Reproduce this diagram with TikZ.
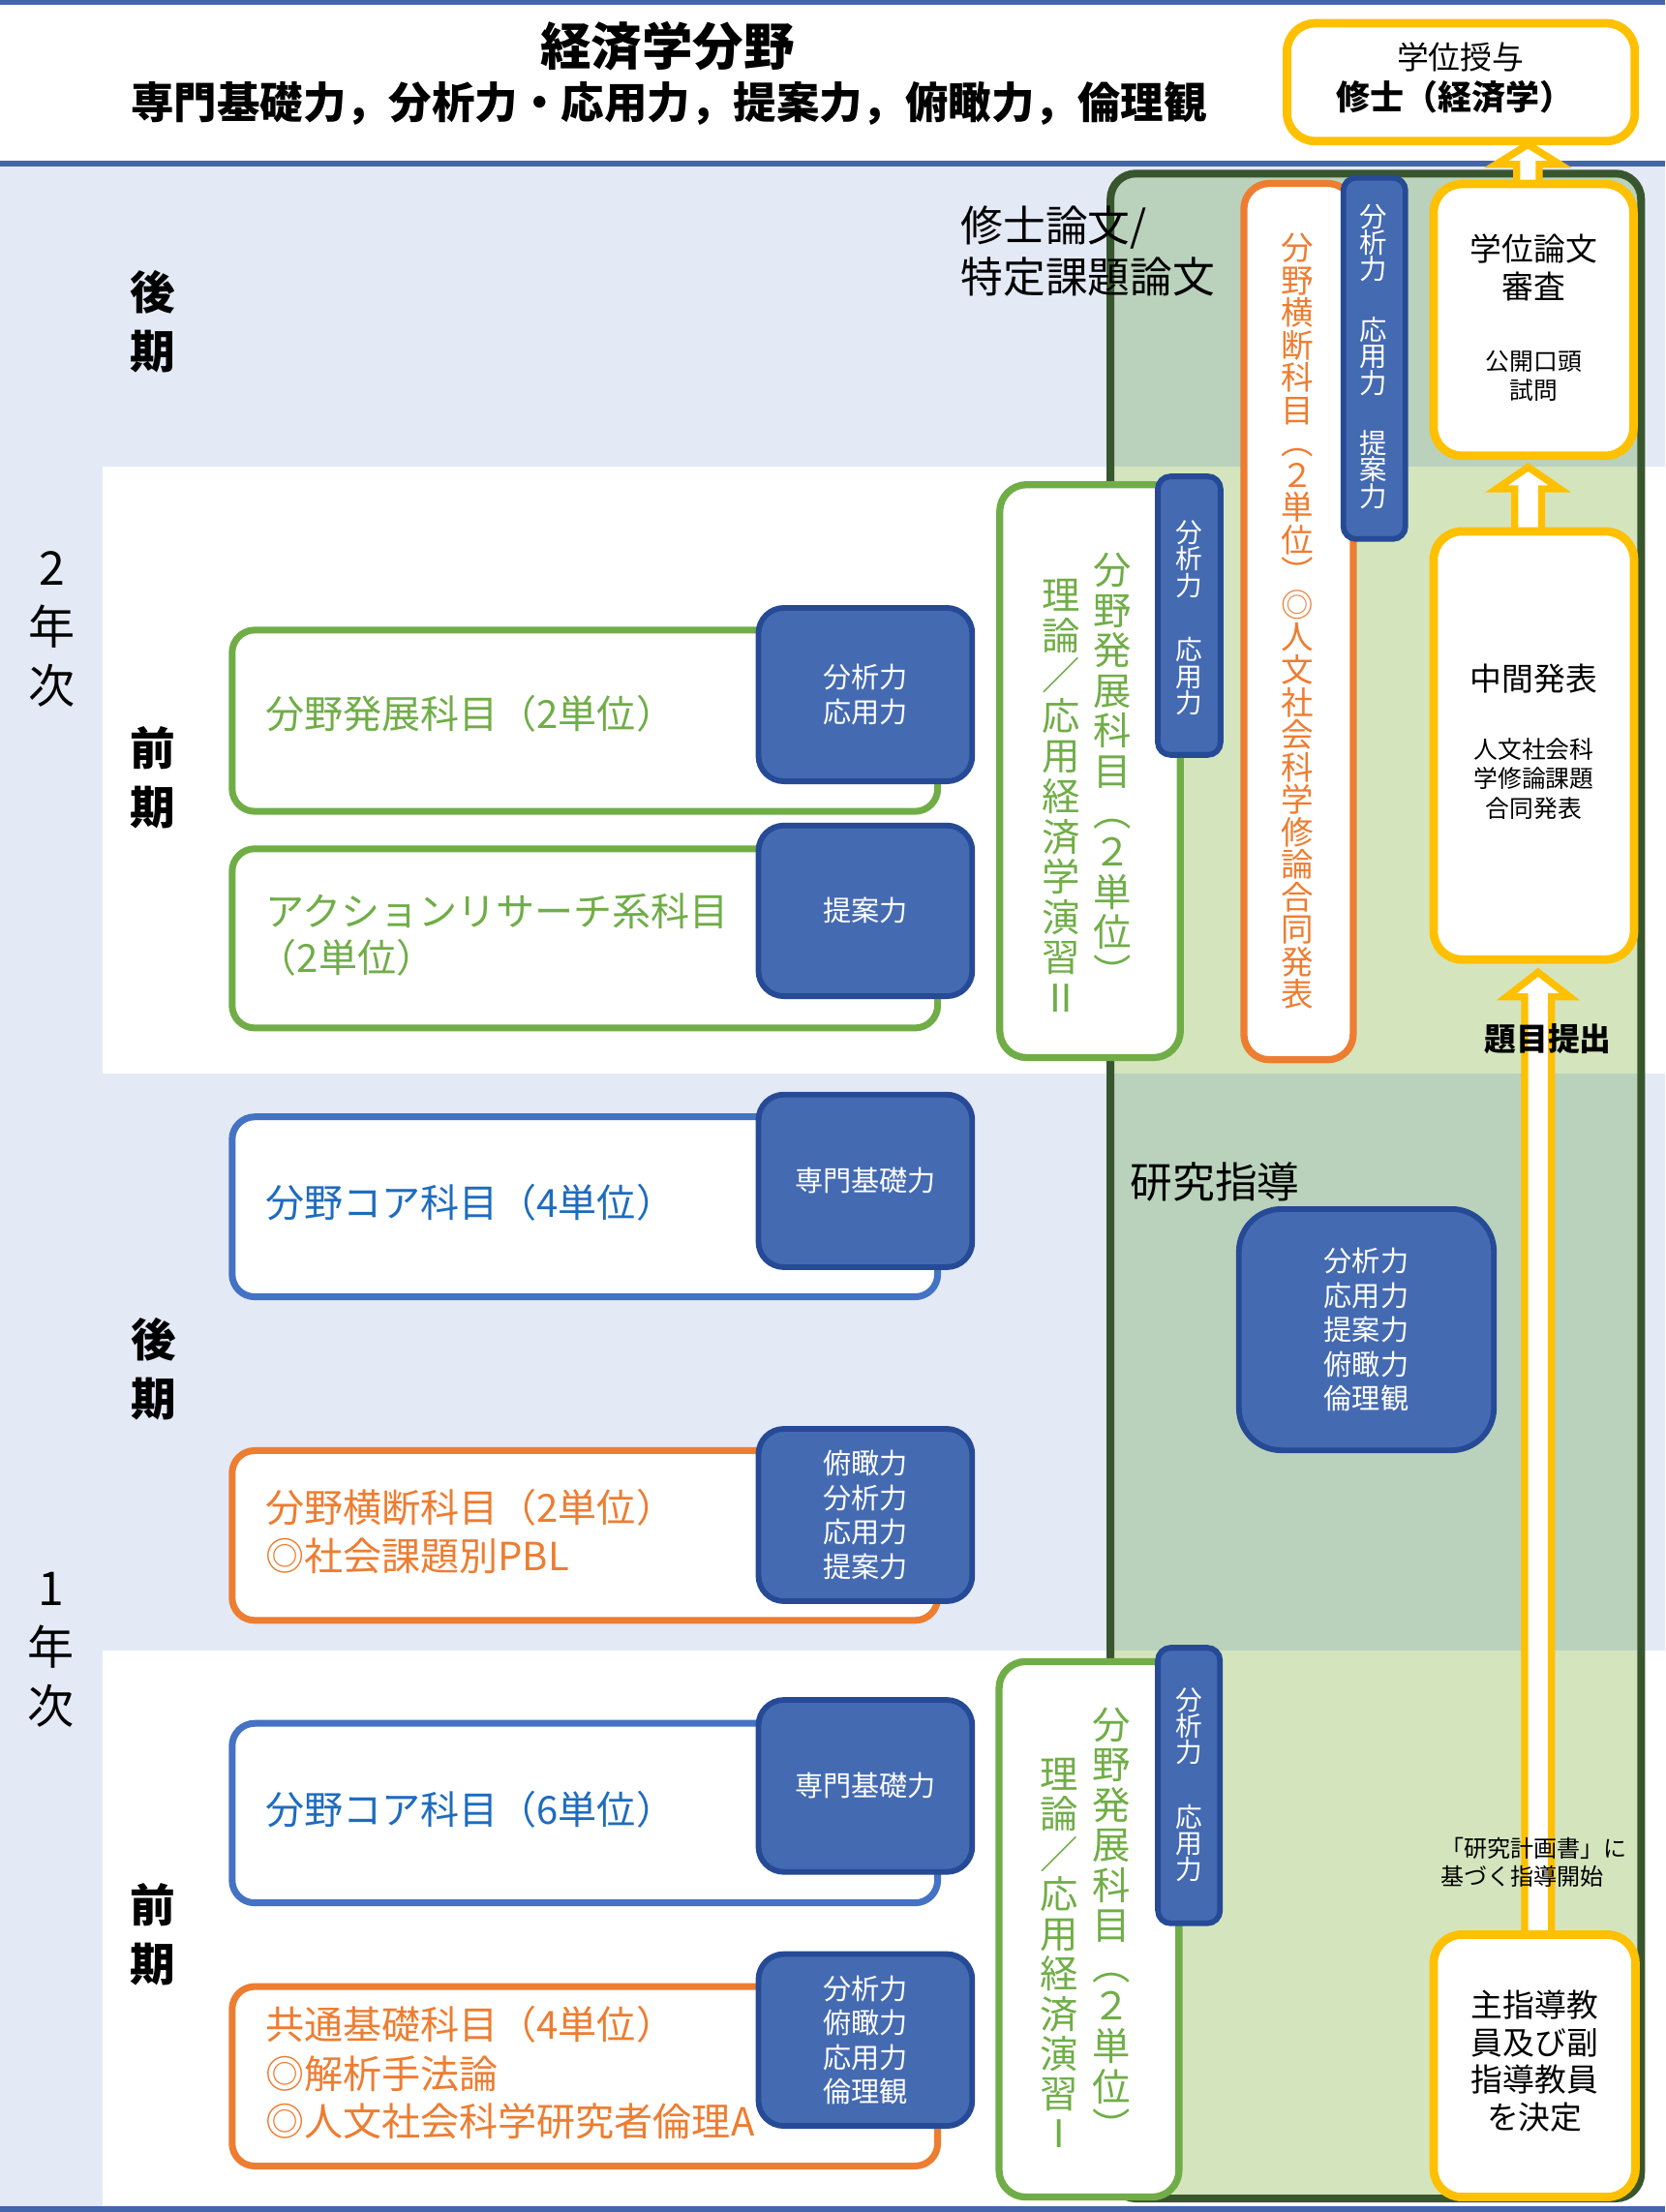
\documentclass[tikz,border=0pt]{standalone}
\usepackage{fontspec}
\setmainfont{Noto Sans CJK JP}
\usetikzlibrary{fit,calc}
\definecolor{hdrblue}{RGB}{68,100,172}
\definecolor{bandblue}{RGB}{227,233,245}
\definecolor{sage}{RGB}{186,210,188}
\definecolor{lgreen}{RGB}{212,229,190}
\definecolor{dgreen}{RGB}{56,86,46}
\definecolor{grn}{RGB}{112,173,71}
\definecolor{org}{RGB}{237,125,49}
\definecolor{cblue}{RGB}{68,114,196}
\definecolor{ctext}{RGB}{30,108,190}
\definecolor{bfill}{RGB}{68,106,178}
\definecolor{bdark}{RGB}{38,74,150}
\definecolor{yel}{RGB}{255,192,0}
\newcommand\fsz[2]{\fontsize{#1}{#2}\selectfont}
\lineskiplimit=-50pt
\pgfdeclarelayer{bg}
\pgfdeclarelayer{arr}
\pgfsetlayers{bg,arr,main}
% hollow block arrow: from, to, xoff, tipgap, headlen, shaft half
\newcommand\harrow[6]{%
  \draw[yarrow] let \p1=(#1.north), \p2=(#2.south) in
   ({\x1+(#3-#6)*1pt},{\y1-6pt}) -- ({\x1+(#3-#6)*1pt},{\y2-(#4+#5)*1pt})
   -- ({\x1+(#3-22.5)*1pt},{\y2-(#4+#5)*1pt}) -- ({\x1+(#3)*1pt},{\y2-(#4)*1pt})
   -- ({\x1+(#3+22.5)*1pt},{\y2-(#4+#5)*1pt}) -- ({\x1+(#3+#6)*1pt},{\y2-(#4+#5)*1pt})
   -- ({\x1+(#3+#6)*1pt},{\y1-6pt});
}
\tikzset{
  lbox/.style={draw, line width=4.8pt, fill=white, rounded corners=16pt, inner sep=0pt, outer sep=0pt},
  badge/.style={draw=bdark, fill=bfill, line width=4pt, rounded corners=18pt, inner sep=0pt, outer sep=0pt},
  vbadge/.style={badge, rounded corners=9pt},
  ybox/.style={draw=yel, fill=white, line width=6pt, rounded corners=20pt, inner sep=0pt, outer sep=0pt},
  vbox/.style={draw, line width=5pt, fill=white, rounded corners=19pt, inner sep=0pt, outer sep=0pt},
  yarrow/.style={draw=yel, fill=white, line width=5pt, line join=miter},
  txt/.style={inner sep=0pt, outer sep=0pt},
  vtxt/.style={txt, align=center, anchor=north},
  btxt/.style={txt, align=center, text=white, font=\fsz{20}{24.3}},
  ltxt/.style={txt, anchor=west, font=\fsz{27.5}{33}},
  lab/.style={txt, align=center, font=\fsz{32}{42}\bfseries},
  yrlab/.style={txt, align=center, font=\fsz{33}{42}},
}
\begin{document}
\begin{tikzpicture}[x=1pt,y=-1pt]
\useasboundingbox (0,0) rectangle (1180,1567.6);
\begin{pgfonlayer}{bg}
  \fill[white] (0,0) rectangle (1180,1567.6);
  \fill[bandblue] (0,117) rectangle (1180,1564);
  \fill[white] (72.5,331) rectangle (1180,761);
  \fill[white] (72.5,1170) rectangle (1180,1564);
  \draw[hdrblue, line width=3.5pt] (0,1.75) -- (1180,1.75);
  \draw[hdrblue, line width=4pt] (0,116) -- (1180,116);
  \begin{scope}
    \clip[rounded corners=18pt] (787,123) rectangle (1163,1558);
    \fill[sage] (787,123) rectangle (1163,331);
    \fill[lgreen] (787,331) rectangle (1163,761);
    \fill[sage] (787,761) rectangle (1163,1170);
    \fill[lgreen] (787,1170) rectangle (1163,1558);
  \end{scope}
  \node[fit={(787,123) (1163,1558)}, draw=dgreen, line width=5.5pt, rounded corners=18pt, inner sep=0pt, outer sep=0pt] (cont) {};
\end{pgfonlayer}

% header
\node[txt, font=\fsz{36}{40}\bfseries] (title) at (473,33) {経済学分野};
\node[txt, font=\fsz{30.5}{34}\bfseries] (subtitle) at (474,73) {専門基礎力，分析力・応用力，提案力，俯瞰力，倫理観};

% term / year labels
\node[lab] (l2k) at (108.5,228) {後\\期};
\node[yrlab] (y2) at (37,446) {2\\年\\次};
\node[lab] (l2z) at (108,551) {前\\期};
\node[lab] (l1k) at (109,970) {後\\期};
\node[yrlab] (y1) at (36,1169) {1\\年\\次};
\node[lab] (l1z) at (108,1371) {前\\期};

% thesis label
\node[txt, anchor=west, align=left, font=\fsz{30}{36}] (thesis) at (681,178) {修士論文/\\特定課題論文};

% yellow boxes
\node[ybox, fit={(912,16.5) (1158.6,100)}] (juyo) {};
\node[txt, font=\fsz{22.5}{26}] (juyo1) at (1035,40.4) {学位授与};
\node[txt, font=\fsz{24}{28}\bfseries] (juyo2) at (1031,68.6) {修士（経済学）};

\node[ybox, fit={(1016,130.4) (1157.6,323)}] (shinsa) {};
\node[txt, align=center, font=\fsz{22.5}{26.6}] (shinsa1) at (1087,189.7) {学位論文\\審査};
\node[txt, align=center, font=\fsz{17}{21}] (shinsa2) at (1087,266.5) {公開口頭\\試問};

\node[ybox, fit={(1016,376.6) (1158,680)}] (chukan) {};
\node[txt, font=\fsz{22.5}{26}] (chukan1) at (1087,481) {中間発表};
\node[txt, align=center, font=\fsz{17}{21}] (chukan2) at (1087,552) {人文社会科\\学修論課題\\合同発表};

\node[ybox, fit={(1016,1371) (1159,1557)}] (shido) {};
\node[txt, align=center, font=\fsz{22.5}{26.5}] (shido1) at (1087.5,1460.5) {主指導教\\員及び副\\指導教員\\を決定};

% hollow arrows
\begin{pgfonlayer}{arr}
  \harrow{shinsa}{juyo}{-4}{2.4}{14}{8}
  \harrow{chukan}{shinsa}{-4}{8}{15.5}{9.5}
  \harrow{shido}{chukan}{2.5}{9}{17.5}{9.5}
\end{pgfonlayer}
\node[txt, font=\fsz{22.5}{26}\bfseries] (daimoku) at (1097,736) {題目提出};
\node[txt, anchor=west, align=left, font=\fsz{16.5}{20}] (keikaku) at (1021,1320) {「研究計画書」に\\基づく指導開始};

% orange vertical box (2nd year)
\node[vbox, draw=org, rounded corners=18pt, fit={(881.5,130) (959,751)}] (oud) {};
\node[vtxt, text=org, font=\fsz{23}{23}] (oudt) at (919.5,165.4) {分\\野\\横\\断\\科\\目\\︵\\２\\単\\位\\︶\\◎\\人\\文\\社\\会\\科\\学\\修\\論\\合\\同\\発\\表};
\node[vbadge, fit={(952,126) (996,382)}] (oudb) {};
\node[vtxt, text=white, font=\fsz{19.5}{18.8}] (oudbt) at (973.5,144.6) {分\\析\\力\\[24pt]応\\用\\力\\[24pt]提\\案\\力};

% green vertical boxes
\node[vbox, draw=grn, fit={(708.5,343.5) (836.5,749.5)}] (en2) {};
\node[vtxt, text=grn, font=\fsz{27}{28.5}] (en2a) at (788.5,392) {分\\野\\発\\展\\科\\目\\︵\\２\\単\\位\\︶};
\node[vtxt, text=grn, font=\fsz{27}{28.5}] (en2b) at (752,410.6) {理\\論\\／\\応\\用\\経\\済\\学\\演\\習\\Ⅱ};
\node[vbadge, fit={(820.5,337.6) (865,535)}] (en2g) {};
\node[vtxt, text=white, font=\fsz{19}{18.7}] (en2gt) at (842.7,369) {分\\析\\力\\[27pt]応\\用\\力};

\node[vbox, draw=grn, fit={(708,1177.5) (835.5,1557)}] (en1) {};
\node[vtxt, text=grn, font=\fsz{27}{28.5}] (en1a) at (788,1210) {分\\野\\発\\展\\科\\目\\︵\\２\\単\\位\\︶};
\node[vtxt, text=grn, font=\fsz{27}{28.3}] (en1b) at (750.5,1246) {理\\論\\／\\応\\用\\経\\済\\演\\習\\Ⅰ};
\node[vbadge, fit={(820.6,1167.7) (864.6,1363)}] (en1g) {};
\node[vtxt, text=white, font=\fsz{19}{18.7}] (en1gt) at (842.6,1196) {分\\析\\力\\[27pt]応\\用\\力};

% left course boxes
\node[lbox, draw=grn, fit={(164.5,446.5) (664.5,575)}] (b1) {};
\node[ltxt, text=grn] (b1t) at (188,506) {分野発展科目（2単位）};
\node[badge, fit={(537.5,430.8) (689,553.7)}] (g1) {};
\node[btxt] (g1t) at (g1.center) {分析力\\応用力};

\node[lbox, draw=grn, fit={(164.5,601.5) (664.5,728.5)}] (b2) {};
\node[ltxt, text=grn] (b2t) at (188,645.8) {アクションリサーチ系科目};
\node[ltxt, text=grn] (b2u) at (183,678.5) {（2単位）};
\node[badge, fit={(537.5,585) (689,706)}] (g2) {};
\node[btxt] (g2t) at (g2.center) {提案力};

\node[lbox, draw=cblue, fit={(164.5,791.5) (664.5,919)}] (b3) {};
\node[ltxt, text=ctext] (b3t) at (188,852) {分野コア科目（4単位）};
\node[badge, fit={(537.5,775.7) (689,898)}] (g3) {};
\node[btxt] (g3t) at (g3.center) {専門基礎力};

\node[lbox, draw=org, fit={(164.5,1028) (664.5,1148.3)}] (b4) {};
\node[ltxt, text=org] (b4t) at (188,1068) {分野横断科目（2単位）};
\node[ltxt, text=org] (b4u) at (188,1102.5) {◎社会課題別PBL};
\node[badge, fit={(537.5,1012.6) (689,1134.7)}] (g4) {};
\node[btxt] (g4t) at (g4.center) {俯瞰力\\分析力\\応用力\\提案力};

\node[lbox, draw=cblue, fit={(164.5,1221.3) (664.5,1348.5)}] (b5) {};
\node[ltxt, text=ctext] (b5t) at (188,1282.3) {分野コア科目（6単位）};
\node[badge, fit={(537.5,1204.7) (689,1326.6)}] (g5) {};
\node[btxt] (g5t) at (g5.center) {専門基礎力};

\node[lbox, draw=org, fit={(164.5,1407.8) (664.5,1535)}] (b6) {};
\node[ltxt, text=org] (b6t) at (188,1434.5) {共通基礎科目（4単位）};
\node[ltxt, text=org] (b6u) at (188,1470) {◎解析手法論};
\node[ltxt, text=org] (b6v) at (188,1503) {◎人文社会科学研究者倫理A};
\node[badge, fit={(537.5,1384.8) (689,1506.6)}] (g6) {};
\node[btxt] (g6t) at (g6.center) {分析力\\俯瞰力\\応用力\\倫理観};

% research guidance
\node[txt, anchor=west, font=\fsz{30}{34}] (kenkyu) at (801,837.7) {研究指導};
\node[badge, rounded corners=30pt, fit={(878,856.8) (1058.7,1027.8)}] (kg) {};
\node[btxt] (kgt) at (kg.center) {分析力\\応用力\\提案力\\俯瞰力\\倫理観};

% bottom line
\draw[hdrblue, line width=4pt] (0,1565.6) -- (1180,1565.6);
\end{tikzpicture}
\end{document}
